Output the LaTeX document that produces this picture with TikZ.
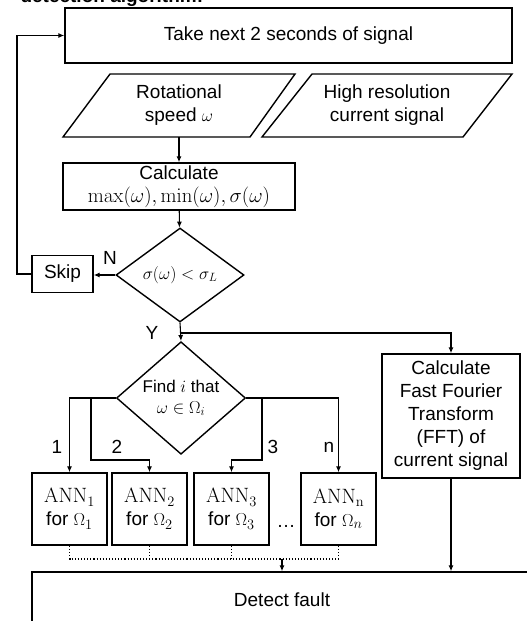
\documentclass[tikz,border=0pt]{standalone}
\usepackage[no-math]{fontspec}
\setmainfont{Liberation Sans}
\usetikzlibrary{positioning,shapes.geometric,arrows.meta}

\newcommand{\annname}[1]{{\fontsize{21}{21}\selectfont$\mathrm{ANN}_{\mathrm{#1}}$}}

\begin{document}
\begin{tikzpicture}[x=1pt, y=-1pt,
font=\fontsize{19}{23}\selectfont,
square/.style={rectangle, draw=black, fill=white, line width=1.4pt, inner sep=2pt, align=center},
io_text/.style={rectangle, inner sep=0pt, align=center, minimum height=63pt},
io_line/.style={line width=1.4pt, line join=miter},
decision/.style={diamond, draw=black, fill=white, line width=1.4pt, inner sep=0pt, align=center, font=\fontsize{17}{21}\selectfont},
ann_box/.style={square, minimum width=75pt, minimum height=72pt},
out_arrow/.style={-{Latex[length=6pt,width=5pt]}, line width=1.1pt},
dot_line/.style={dotted, line width=1.1pt},
branch_text/.style={inner sep=1pt}
]
\useasboundingbox (0,0) rectangle (527,621);

\node[anchor=base west, font=\fontsize{19}{23}\selectfont\bfseries](title) at (17,2.5) {detection algorithm:};

\node[square, minimum width=447pt, minimum height=55pt](take) at (288.5,35.5) {Take next 2 seconds of signal};

% input parallelograms
\node[io_text](speed) at (179,105.5) {Rotational\\speed $\omega$};
\draw[io_line]([shift={(-116,31.5)}]speed.center) -- ([shift={(-69,-31.5)}]speed.center)
  -- ([shift={(116,-31.5)}]speed.center) -- ([shift={(71,31.5)}]speed.center) -- cycle;
\node[io_text](current) at (387,105.5) {High resolution\\current signal};
\draw[io_line]([shift={(-125,31.5)}]current.center) -- ([shift={(-75,-31.5)}]current.center)
  -- ([shift={(125,-31.5)}]current.center) -- ([shift={(76,31.5)}]current.center) -- cycle;

\node[square, minimum width=232pt, minimum height=47pt, inner sep=0pt](calc) at (179,186.5) {Calculate\\{\fontsize{22}{22}\selectfont$\max(\omega),\min(\omega),\sigma(\omega)$}};
\node[decision, minimum width=128pt, minimum height=94pt](check) at (180,275) {$\sigma(\omega)<\sigma_L$};
\node[square, minimum width=61pt, minimum height=37pt](skip) at (62.5,274) {Skip};

\node[decision, minimum width=129pt, minimum height=96pt](find) at (181,398) {Find $i$ that\\$\omega\in\Omega_i$};
\node[square, minimum width=138pt, minimum height=124pt, inner sep=0pt](fft) at (451,416) {Calculate\\Fast Fourier\\Transform\\(FFT) of\\current signal};

\node[ann_box](ann_one) at (69.5,509) {\annname{1}\\for $\Omega_1$};
\node[ann_box](ann_two) at (149.5,509) {\annname{2}\\for $\Omega_2$};
\node[ann_box](ann_three) at (231.5,509) {\annname{3}\\for $\Omega_3$};
\node[ann_box](ann_n) at (338.5,509) {\annname{n}\\for $\Omega_n$};
\node(ann_dots) at (286,526) {\dots};

\node[square, minimum width=500pt, minimum height=56pt](detect) at (282,600) {Detect fault};

\coordinate(loop_back) at (17,0);
\coordinate(yes_split) at (180,333);
\coordinate(bend_two) at (91,460);
\coordinate(bend_three) at (262,460);
\coordinate(dot_row) at (0,559);

\node[branch_text](no_label) at (110,258) {N};
\node[branch_text](yes_label) at (152,333) {Y};
\node[branch_text](one_label) at (57,447) {1};
\node[branch_text](two_label) at (117,447) {2};
\node[branch_text](three_label) at (273,447) {3};
\node[branch_text](n_label) at (329,447) {n};

\draw[out_arrow](speed) to [] (calc);
\draw[out_arrow](calc) to [] (check);
\draw[out_arrow](check.west) to [] (check.west -| skip.east);
\draw[out_arrow](skip.west) -| (loop_back |- skip.west) |- (take.west);

\draw[out_arrow](check.south) to [] (find.north);
\draw[out_arrow](yes_split) -| (fft.north);

\draw[out_arrow](find.west) -| (ann_one.north);
\draw[out_arrow](find.west) -| (bend_two) -| (ann_two.north);
\draw[out_arrow](find.east) -| (bend_three) -| (ann_three.north);
\draw[out_arrow](find.east) -| (ann_n.north);

\draw[dot_line](ann_one.south) |- (ann_n.south |- dot_row) -- (ann_n.south);
\draw[dot_line](ann_two.south) -- (ann_two.south |- dot_row);
\draw[dot_line](ann_three.south) -- (ann_three.south |- dot_row);
\draw[out_arrow](detect.north |- dot_row) -- (detect.north);
\draw[out_arrow](fft.south) -- (fft.south |- detect.north);
\end{tikzpicture}
\end{document}
